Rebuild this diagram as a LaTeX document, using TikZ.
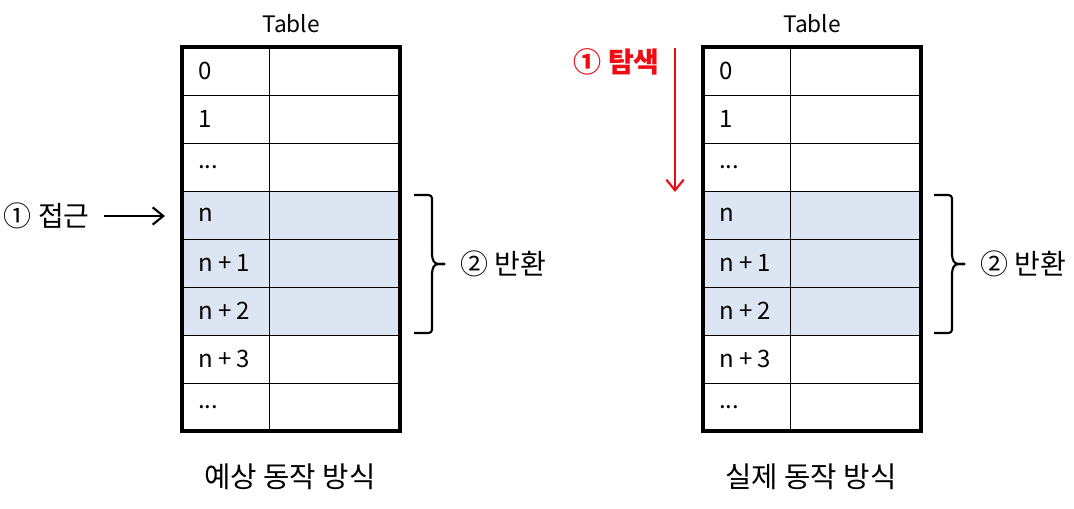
\documentclass[tikz,border=0pt]{standalone}
\usepackage{fontspec}
\setmainfont{Noto Sans CJK KR}
\usetikzlibrary{arrows.meta}
\definecolor{hl}{RGB}{220,230,242}
\definecolor{myred}{RGB}{240,10,20}
\begin{document}
\begin{tikzpicture}[x=0.75pt,y=-0.75pt,
  cell/.style={draw=black,line width=1.1pt,minimum width=87*0.75pt,minimum height=48*0.75pt,anchor=north west,inner sep=0pt},
  valcell/.style={draw=black,line width=1.1pt,minimum width=131*0.75pt,minimum height=48*0.75pt,anchor=north west,inner sep=0pt},
  lbl/.style={anchor=west,font=\fontsize{18}{21}\selectfont,inner sep=0pt},
  tabtitle/.style={font=\fontsize{17}{20}\selectfont},
  captxt/.style={font=\fontsize{21.5}{25}\selectfont},
  side/.style={font=\fontsize{21}{24}\selectfont},
  outer/.style={draw=black,line width=3pt},
  brc/.style={line width=1.6pt,rounded corners=2.5pt},
  arr/.style={-{Straight Barb[length=8pt,width=13pt]},line width=1.6pt}]
\useasboundingbox (0,0) rectangle (1074,508);
% tables
\foreach \t/\x in {L/182,R/703}{
  \foreach \i/\txt/\f in {0/0/white,1/1/white,2/{...}/white,3/n/hl,4/{n + 1}/hl,5/{n + 2}/hl,6/{n + 3}/white,7/{...}/white}{
    \node[cell,fill=\f] (\t k\i) at (\x,47+48*\i) {};
    \node[valcell,fill=\f] (\t v\i) at (\x+87,47+48*\i) {};
    \node[lbl] (\t t\i) at (\x+16,71+48*\i) {\txt};
  }
  \draw[outer] (\x,47) rectangle (\x+218,431);
}
\node[tabtitle] (LT) at (291,24) {Table};
\node[tabtitle] (RT) at (812,24) {Table};
\node[captxt] (LC) at (290,477) {예상 동작 방식};
\node[captxt] (RC) at (811,477) {실제 동작 방식};
% left access arrow
\node[side,anchor=east,inner sep=0pt] (acc) at (90,216) {① 접근};
\coordinate (as) at (104,216);
\coordinate (ae) at (165,216);
\draw[arr] (as) -- (ae);
% braces
\foreach \b/\x in {L/414,R/934}{
  \coordinate (\b b1) at (\x,195);
  \coordinate (\b b2) at (\x,333);
  \coordinate (\b tip) at (\x+31,264);
  \draw[brc] (\b b1) -| (\x+18,258) -- (\x+21,264) -- (\b tip);
  \draw[brc] (\b tip) -- (\x+21,264) -- (\x+18,270) |- (\b b2);
}
\node[side,anchor=west,inner sep=0pt] (Lret) at (460,264) {② 반환};
\node[side,anchor=west,inner sep=0pt] (Rret) at (980,264) {② 반환};
% red search arrow
\node[anchor=east,inner sep=0pt,text=myred,font=\fontsize{21}{24}\selectfont\bfseries] (srch) at (660,62) {① 탐색};
\coordinate (s1) at (675,48);
\coordinate (s2) at (675,192);
\draw[arr,draw=myred] (s1) -- (s2);
\end{tikzpicture}
\end{document}
